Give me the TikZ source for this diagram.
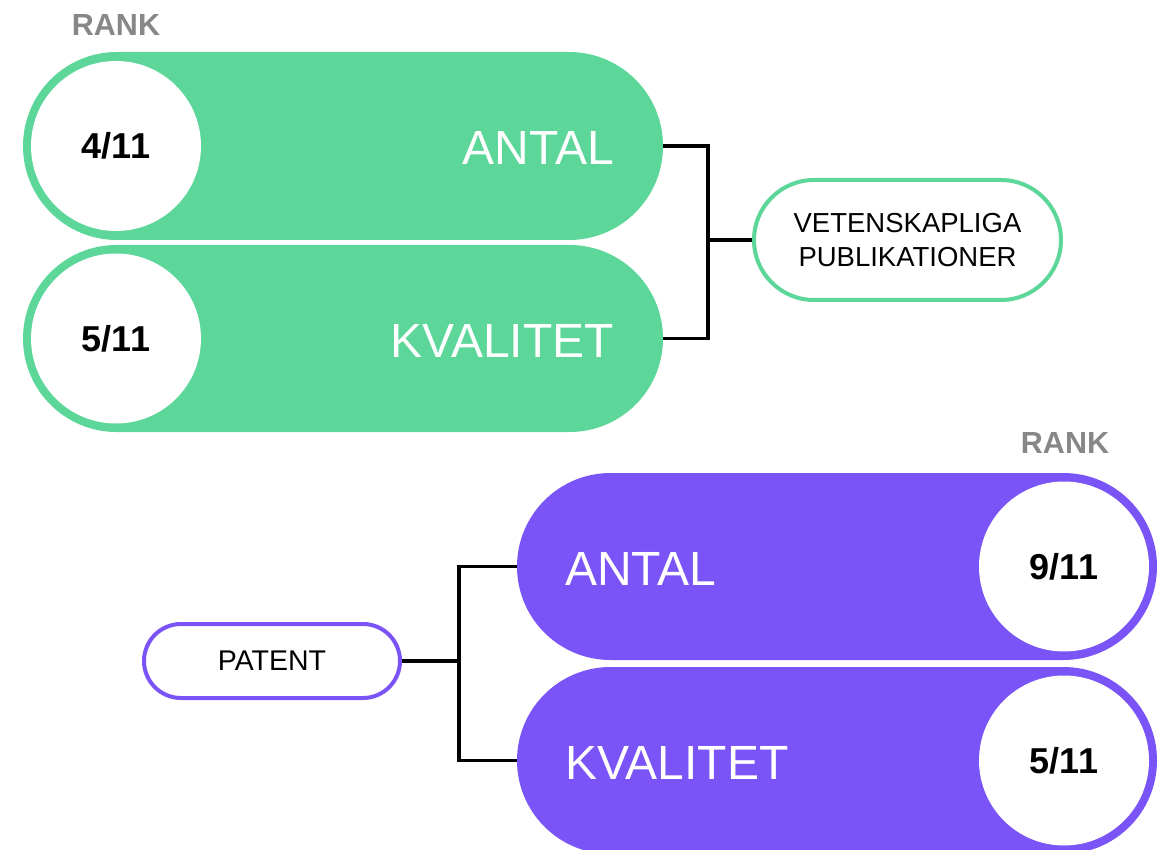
\documentclass[tikz,border=0pt]{standalone}
\usepackage{fontspec}
\setmainfont{Liberation Sans}
\usetikzlibrary{shapes.misc}
\definecolor{grn}{HTML}{5CD699}
\definecolor{prp}{HTML}{7A54F6}
\definecolor{rankgray}{HTML}{878787}
\tikzset{
  pill/.style={rounded rectangle, minimum width=640pt, minimum height=188pt, inner sep=0pt, draw=none},
  rankcircle/.style={circle, fill=white, minimum size=170pt, inner sep=0pt, font=\fontsize{36}{42}\selectfont\bfseries},
  bigtext/.style={inner sep=0pt, text=white, font=\fontsize{48}{56}\selectfont},
  ranklabel/.style={inner sep=0pt, text=rankgray, font=\fontsize{30.5}{36}\selectfont\bfseries},
  smallpill/.style={rounded rectangle, fill=white, line width=4pt, inner sep=0pt, align=center},
  conn/.style={line width=3.2pt, line join=miter, draw=black}
}
\begin{document}
\begin{tikzpicture}[x=1pt,y=-1pt]
\useasboundingbox (0,0) rectangle (1165,850);
% green block
\node[ranklabel] (rank1) at (116,25) {RANK};
\node[pill, fill=grn] (g1) at (343,146) {};
\node[pill, fill=grn, minimum height=187pt] (g2) at (343,338.5) {};
\node[rankcircle] (c1) at (116,146) {4/11};
\node[rankcircle] (c2) at (116,338.5) {5/11};
\node[bigtext, anchor=base east] (t1) at (614,165) {ANTAL};
\node[bigtext, anchor=base east] (t2) at (614,357.5) {KVALITET};
\node[smallpill, draw=grn, minimum width=307pt, minimum height=120pt, font=\fontsize{27.5}{34}\selectfont] (vp) at (907.5,240) {VETENSKAPLIGA\\PUBLIKATIONER};
\coordinate (j1) at (708,240);
\draw[conn] (g1.east) -| (j1) |- (g2.east);
\draw[conn] (j1) -- (vp.west);
% purple block
\node[ranklabel] (rank2) at (1065,443) {RANK};
\node[pill, fill=prp, minimum height=187pt] (p1) at (837,566.5) {};
\node[pill, fill=prp, minimum height=187pt] (p2) at (837,760.5) {};
\node[rankcircle] (c3) at (1064,566.5) {9/11};
\node[rankcircle] (c4) at (1064,760.5) {5/11};
\node[bigtext, anchor=base west] (t3) at (565,585) {ANTAL};
\node[bigtext, anchor=base west] (t4) at (565,779.5) {KVALITET};
\node[smallpill, draw=prp, minimum width=256pt, minimum height=74pt, font=\fontsize{28.5}{33}\selectfont] (pat) at (272,661) {PATENT};
\coordinate (j2) at (459,661);
\draw[conn] (pat.east) -- (j2);
\draw[conn] (p1.west) -| (j2) |- (p2.west);
\end{tikzpicture}
\end{document}
